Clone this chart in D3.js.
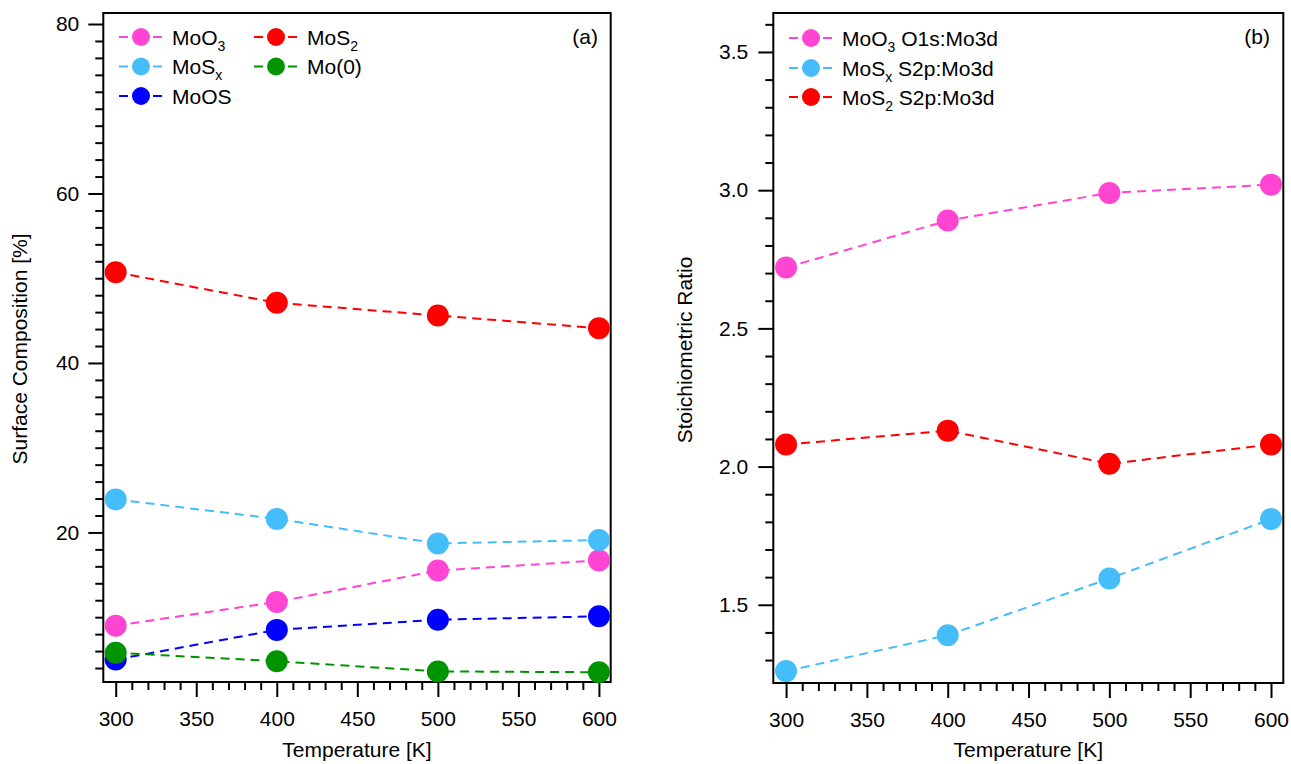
<!DOCTYPE html>
<html>
<head>
<meta charset="utf-8">
<script src="https://cdn.jsdelivr.net/npm/d3@7"></script>
<style>
  body { margin: 0; background: #fff; }
  text { font-family: "Liberation Sans", Arial, sans-serif; fill: #000; }
</style>
</head>
<body>
<div id="chart"></div>
<script>
// temperatures (x) shared by both panels
const temps = [300, 400, 500, 600];

// panel (a) surface composition [%]
const moo3 = [9.0, 11.8, 15.5, 16.7];
const mos2 = [50.7, 47.1, 45.6, 44.1];
const mosx = [23.9, 21.6, 18.7, 19.1];
const moos = [5.0, 8.5, 9.7, 10.1];
const mo0 = [5.8, 4.8, 3.6, 3.5];

// panel (b) stoichiometric ratio
const o1sMo3d = [2.72, 2.89, 2.99, 3.02];
const s2pMosx = [1.26, 1.39, 1.595, 1.81];
const s2pMos2 = [2.08, 2.13, 2.01, 2.08];

const xTicks = [300, 350, 400, 450, 500, 550, 600];
const yTicksA = [20, 40, 60, 80];
const yTicksB = [1.5, 2.0, 2.5, 3.0, 3.5];

const pink = "#ff45d2", lblue = "#45bdfb", blue = "#0000ff", red = "#ff0000", green = "#009400";

const W = 1291, H = 764;
const svg = d3.select("#chart").append("svg")
  .attr("width", W).attr("height", H);
svg.append("rect").attr("width", W).attr("height", H).attr("fill", "white");

function sub(sel, base, s, rest) {
  sel.append("tspan").text(base);
  if (s) sel.append("tspan").attr("font-size", 14).attr("dy", 6).text(s);
  if (rest) sel.append("tspan").attr("dy", s ? -6 : 0).text(rest);
}

function panel(opt) {
  const x = d3.scaleLinear().domain(opt.xDom).range(opt.xRange);
  const y = d3.scaleLinear().domain(opt.yDom).range(opt.yRange);
  const g = svg.append("g");

  // minor + major ticks
  const xMinor = d3.range(300, 601, 10).filter(v => !xTicks.includes(v));
  g.append("g").attr("transform", `translate(0,${opt.yRange[0]})`)
    .call(d3.axisBottom(x).tickValues(xMinor).tickSize(8).tickFormat(""));
  g.append("g").attr("transform", `translate(0,${opt.yRange[0]})`)
    .call(d3.axisBottom(x).tickValues(xTicks).tickSize(15).tickPadding(14));
  g.append("g").attr("transform", `translate(${opt.xRange[0]},0)`)
    .call(d3.axisLeft(y).tickValues(opt.yMinor).tickSize(8).tickFormat(""));
  g.append("g").attr("transform", `translate(${opt.xRange[0]},0)`)
    .call(d3.axisLeft(y).tickValues(opt.yTicks).tickSize(15).tickPadding(opt.yPad)
      .tickFormat(opt.fmt));
  g.selectAll(".domain").remove();
  g.selectAll(".tick line").attr("stroke", "#000").attr("stroke-width", 2);
  g.selectAll(".tick text").attr("font-size", 21).attr("font-family", "Liberation Sans, Arial, sans-serif");

  // frame
  g.append("rect")
    .attr("x", opt.xRange[0]).attr("y", opt.yRange[1])
    .attr("width", opt.xRange[1] - opt.xRange[0])
    .attr("height", opt.yRange[0] - opt.yRange[1])
    .attr("fill", "none").attr("stroke", "#000").attr("stroke-width", 2);

  const line = d3.line().x((d, i) => x(temps[i])).y(d => y(d));
  opt.series.forEach(s => {
    g.append("path").datum(s.values).attr("d", line)
      .attr("fill", "none").attr("stroke", s.color)
      .attr("stroke-width", 2).attr("stroke-dasharray", "9,6");
    g.selectAll(null).data(s.values).join("circle")
      .attr("cx", (d, i) => x(temps[i])).attr("cy", d => y(d))
      .attr("r", 11).attr("fill", s.color);
  });

  // legend
  opt.series.forEach(s => {
    const lg = g.append("g").attr("transform", `translate(${s.lx},${s.ly})`);
    lg.append("line").attr("x1", -22).attr("x2", 21).attr("y1", 0).attr("y2", 0)
      .attr("stroke", s.color).attr("stroke-width", 2).attr("stroke-dasharray", "9,25,9");
    lg.append("circle").attr("r", 9).attr("fill", s.color);
    lg.append("text").attr("x", 31).attr("y", 7.5).attr("font-size", 21)
      .call(sub, s.label[0], s.label[1], s.label[2]);
  });

  g.append("text").attr("x", opt.tagX).attr("y", 44).attr("font-size", 21)
    .attr("text-anchor", "end").text(opt.tag);

  g.append("text")
    .attr("x", (opt.xRange[0] + opt.xRange[1]) / 2).attr("y", 757)
    .attr("text-anchor", "middle").attr("font-size", 21).text("Temperature [K]");
  g.append("text")
    .attr("transform", `translate(${opt.yTitleX},${opt.yTitleY}) rotate(-90)`)
    .attr("text-anchor", "middle").attr("font-size", 21).text(opt.yTitle);
}

panel({
  xDom: [292.3, 607.3], xRange: [103.3, 610.7],
  yDom: [2.35, 81.3], yRange: [682, 13],
  yTicks: yTicksA, yMinor: d3.range(4, 81, 2).filter(v => v % 20 !== 0),
  yPad: 9, fmt: d3.format("d"),
  tag: "(a)", tagX: 598,
  yTitle: "Surface Composition [%]", yTitleX: 27, yTitleY: 349,
  series: [
    {values: moo3, color: pink, label: ["MoO", "3", ""], lx: 141, ly: 37},
    {values: mos2, color: red, label: ["MoS", "2", ""], lx: 276, ly: 37},
    {values: mosx, color: lblue, label: ["MoS", "x", ""], lx: 141, ly: 66.5},
    {values: moos, color: blue, label: ["MoOS", "", ""], lx: 141, ly: 96},
    {values: mo0, color: green, label: ["Mo(0)", "", ""], lx: 276, ly: 66.5}
  ]
});

panel({
  xDom: [292.1, 607.6], xRange: [773.3, 1283.3],
  yDom: [1.217, 3.641], yRange: [683, 13],
  yTicks: yTicksB, yMinor: d3.range(13, 37, 1).map(v => v / 10).filter(v => Math.round(v * 10) % 5 !== 0),
  yPad: 10, fmt: d3.format(".1f"),
  tag: "(b)", tagX: 1270,
  yTitle: "Stoichiometric Ratio", yTitleX: 692, yTitleY: 350,
  series: [
    {values: o1sMo3d, color: pink, label: ["MoO", "3", " O1s:Mo3d"], lx: 811, ly: 38},
    {values: s2pMosx, color: lblue, label: ["MoS", "x", " S2p:Mo3d"], lx: 811, ly: 68},
    {values: s2pMos2, color: red, label: ["MoS", "2", " S2p:Mo3d"], lx: 811, ly: 97}
  ]
});
</script>
</body>
</html>
